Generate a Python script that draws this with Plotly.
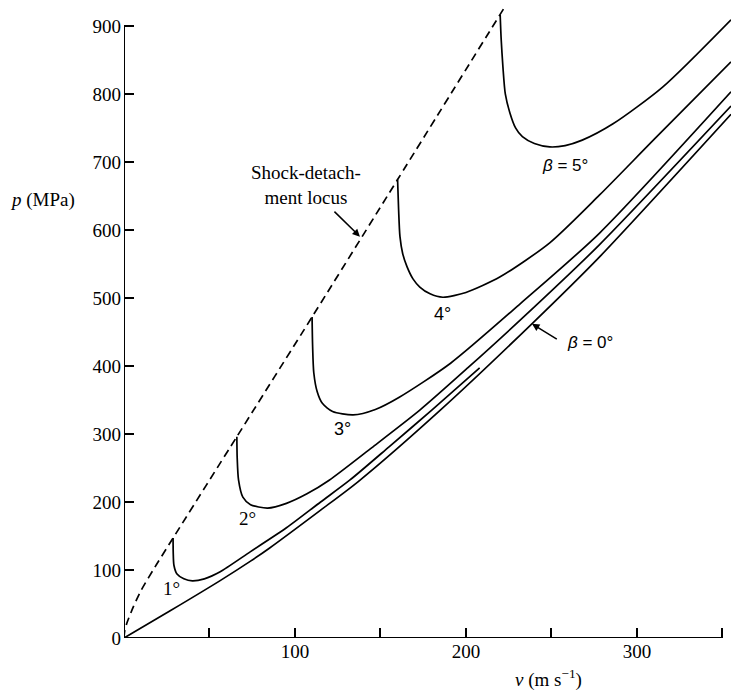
import plotly.graph_objects as go

# Shock-detachment locus (dashed)
locus_v = [0, 0.4, 1.7, 5.5, 10, 19, 28.7, 66, 110, 160, 223]
locus_p = [0, 10, 22, 46, 70, 108, 147, 296, 472, 674, 929]

# beta = 0 deg
b0_v = [0, 27, 56, 74, 85, 115, 137, 185, 239, 278, 355]
b0_p = [0, 40, 84, 113, 132, 188, 230, 335, 463, 560, 770]

# beta = 1 deg
b1_v = [28.7, 28.8, 29.2, 31, 35, 40, 47, 56, 74, 95, 115, 132, 155, 180, 208]
b1_p = [147, 125, 107, 94, 87, 84, 87, 97, 127, 162, 200, 232, 281, 335, 397]

# beta = 2 deg
b2_v = [66, 66.2, 67, 69.5, 74, 84, 95, 107, 120, 145, 173, 201, 232, 278, 355]
b2_p = [296, 265, 232, 207, 196, 191, 198, 212, 232, 280, 335, 397, 468, 578, 782]

# beta = 3 deg
b3_v = [110, 110.3, 111, 113, 116, 122, 134, 147, 161, 191, 232, 278, 355]
b3_p = [472, 430, 390, 362, 345, 333, 328, 336, 354, 404, 492, 595, 803]

# beta = 4 deg
b4_v = [160, 160.6, 161.4, 163, 165.5, 169, 173, 179, 186.5, 200, 220, 249, 278, 310, 355]
b4_p = [674, 630, 590, 565, 546, 528, 516, 506, 501, 508, 531, 581, 651, 733, 847]

# beta = 5 deg
b5_v = [220, 220.6, 221.6, 223, 225.7, 229, 233, 240, 249, 258, 268, 286, 315, 355]
b5_p = [916, 880, 840, 800, 772, 750, 737, 727, 722, 724, 732, 756, 810, 909]

x_tickvals = [50, 100, 150, 200, 250, 300, 350]
x_ticktext = ["", "100", "", "200", "", "300", ""]
y_tickvals = [0, 100, 200, 300, 400, 500, 600, 700, 800, 900]
y_ticktext = ["0", "100", "200", "300", "400", "500", "600", "700", "800", "900"]

SERIF = "Liberation Serif, Times New Roman, serif"
SANS = "Liberation Sans, Arial, sans-serif"
LW = 1.7

fig = go.Figure()
fig.add_trace(go.Scatter(x=locus_v, y=locus_p, mode="lines",
                         line=dict(color="black", width=LW, dash="8px,5px", shape="spline", smoothing=0.6),
                         showlegend=False, hoverinfo="skip"))
for vv, pp in [(b0_v, b0_p), (b1_v, b1_p), (b2_v, b2_p), (b3_v, b3_p), (b4_v, b4_p), (b5_v, b5_p)]:
    fig.add_trace(go.Scatter(x=vv, y=pp, mode="lines",
                             line=dict(color="black", width=LW, shape="spline", smoothing=0.7),
                             showlegend=False, hoverinfo="skip"))

# axis lines
fig.add_shape(type="line", x0=0, y0=0, x1=350, y1=0, xref="x", yref="y",
              line=dict(color="black", width=2))
fig.add_shape(type="line", x0=0, y0=0, x1=0, y1=900, xref="x", yref="y",
              line=dict(color="black", width=2))

def lab(text, x, y, font=SERIF, size=19):
    fig.add_annotation(x=x, y=y, xref="x", yref="y", text=text, showarrow=False,
                       font=dict(family=font, size=size, color="black"),
                       xanchor="center", yanchor="middle")

lab("1°", 27.5, 73.5)
lab("2°", 72.5, 175)
lab("3°", 127.5, 307, SANS, 18)
lab("4°", 186.5, 476, SANS, 18)
lab("<i>β</i> = 5°", 258, 694, SANS, 17)
lab("<i>β</i> = 0°", 272.5, 434, SANS, 17)
lab("Shock-detach-<br>ment locus", 106.4, 666)

fig.add_annotation(x=238.6, y=462, ax=254, ay=438, xref="x", yref="y", axref="x", ayref="y",
                   text="", showarrow=True, arrowhead=2, arrowsize=1, arrowwidth=1.5, arrowcolor="black")
fig.add_annotation(x=138, y=590, ax=122.2, ay=629, xref="x", yref="y", axref="x", ayref="y",
                   text="", showarrow=True, arrowhead=2, arrowsize=1, arrowwidth=1.5, arrowcolor="black")

# axis titles
fig.add_annotation(x=248, y=-0.0627, xref="x", yref="paper", text="<i>v</i> (m s<sup>−1</sup>)",
                   showarrow=False, font=dict(family=SERIF, size=19, color="black"),
                   xanchor="center", yanchor="middle")
fig.add_annotation(x=-0.135, y=644, xref="paper", yref="y", text="<i>p</i> (MPa)",
                   showarrow=False, font=dict(family=SERIF, size=19, color="black"),
                   xanchor="center", yanchor="middle")

fig.update_layout(
    width=731, height=691,
    margin=dict(l=124, r=0, t=0, b=53),
    plot_bgcolor="white", paper_bgcolor="white",
    xaxis=dict(range=[0, 355], showgrid=False, zeroline=False, showline=False,
               tickmode="array", tickvals=x_tickvals, ticktext=x_ticktext,
               ticks="inside", ticklen=10, tickwidth=1.5, tickcolor="black",
               tickfont=dict(family=SERIF, size=19, color="black")),
    yaxis=dict(range=[0, 938], showgrid=False, zeroline=False, showline=False,
               tickmode="array", tickvals=y_tickvals, ticktext=y_ticktext,
               ticks="inside", ticklen=10, tickwidth=1.5, tickcolor="black",
               ticklabelstandoff=2,
               tickfont=dict(family=SERIF, size=19, color="black")),
)

fig.write_html("out.html", config={"displayModeBar": False},
               post_script="document.body.style.margin='0';document.body.style.overflow='hidden';")
